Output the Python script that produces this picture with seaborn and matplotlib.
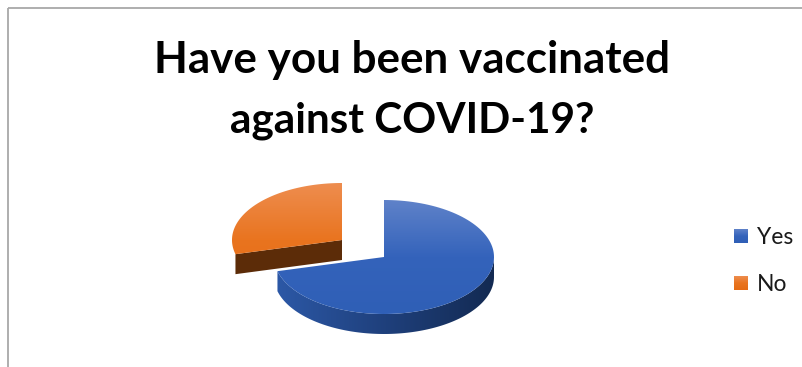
import numpy as np
import matplotlib
matplotlib.use("Agg")
import matplotlib.pyplot as plt
from matplotlib.colors import LinearSegmentedColormap
from matplotlib.patches import Polygon
import seaborn as sns

# Survey shares
categories = ["Yes", "No"]
shares = [71, 29]
title_lines = ["Have you been vaccinated", "against COVID-19?"]

sns.set_theme(style="white")
plt.rcParams["font.family"] = ["Lato", "DejaVu Sans"]

fig = plt.figure(figsize=(8.03, 3.67), dpi=100, facecolor="white")
ax = fig.add_axes([0, 0, 1, 1])
ax.set_axis_off()

RX, RY, DEPTH = 110, 57, 20
centres = {"Yes": (384, 257), "No": (342, 240)}
top_ramps = {"Yes": ["#5f82c9", "#3463bb", "#2f5fb6"], "No": ["#ee8d4f", "#e9741f", "#e56b14"]}
rim_ramp = ["#2c58a6", "#1f407c", "#132a52"]
cut_colour = "#5c2c08"


def ramp(colours):
    return LinearSegmentedColormap.from_list("ramp", colours)


def gradient(cmap, box, clip, vertical=True):
    x0, x1, y0, y1 = box
    g = np.linspace(0, 1, 256)
    data = g[:, None] if vertical else g[None, :]
    im = ax.imshow(data, cmap=cmap, extent=(x0, x1, y1, y0), aspect="auto", zorder=clip.get_zorder())
    im.set_clip_path(clip)


def rim_points(c, a0, a1):
    # Outer edge, clockwise angles measured from twelve o'clock
    t = np.radians(np.linspace(a0, a1, 120))
    return np.column_stack([c[0] + RX * np.sin(t), c[1] - RY * np.cos(t)])


def draw_sector(name, a0, a1, z):
    c = centres[name]
    arc = rim_points(c, a0, a1)
    drop = np.array([0, DEPTH])

    if name == "No":
        # Flat cut face that shows when the slice is pulled away
        end = arc[0]
        ax.add_patch(Polygon([c, end, end + drop, np.array(c) + drop],
                             closed=True, fc=cut_colour, ec="none", zorder=z))
    else:
        # Curved wall along the front of the slice
        front = rim_points(c, max(a0, 90), min(a1, 270))
        wall = Polygon(np.vstack([front, (front + drop)[::-1]]), closed=True,
                       fc="none", ec="none", zorder=z)
        ax.add_patch(wall)
        gradient(ramp(rim_ramp), (front[:, 0].min(), front[:, 0].max(),
                                  c[1], c[1] + RY + DEPTH), wall, vertical=False)

    # Top surface
    surface = Polygon(np.vstack([[c], arc]), closed=True, fc="none", ec="none", zorder=z + 0.5)
    ax.add_patch(surface)
    gradient(ramp(top_ramps[name]), (c[0] - RX, c[0] + RX, c[1] - RY, c[1] + RY), surface)


# Angles come from the shares; the slice furthest back is drawn first
sweep = 360 * np.array(shares) / sum(shares)
draw_sector("No", sweep[0], 360, 1)
draw_sector("Yes", 0, sweep[0], 2)

# Frame lines of the chart area
ax.plot([8.5, 8.5], [8, 367], color="#a8a8a8", lw=1.3, zorder=5, solid_capstyle="butt")
ax.plot([8, 803], [8, 8], color="#a8a8a8", lw=1.3, zorder=5, solid_capstyle="butt")

# Title
for line, y, size in zip(title_lines, [73, 132], [31.7, 30.4]):
    ax.text(412.5, y, line, ha="center", va="baseline", fontsize=size, fontweight="bold", color="black")

# Legend
for name, y in zip(categories, [236, 283]):
    key = Polygon([(734, y - 7), (748, y - 7), (748, y + 7), (734, y + 7)], closed=True,
                  fc="none", ec="none", zorder=3)
    ax.add_patch(key)
    gradient(ramp(top_ramps[name]), (734, 748, y - 7, y + 7), key)
    ax.text(757, y + 8, name, ha="left", va="baseline", fontsize=16.5, color="#1a1a1a")

ax.set_xlim(0, 803)
ax.set_ylim(367, 0)
fig.savefig("out.png", dpi=100, facecolor="white")
